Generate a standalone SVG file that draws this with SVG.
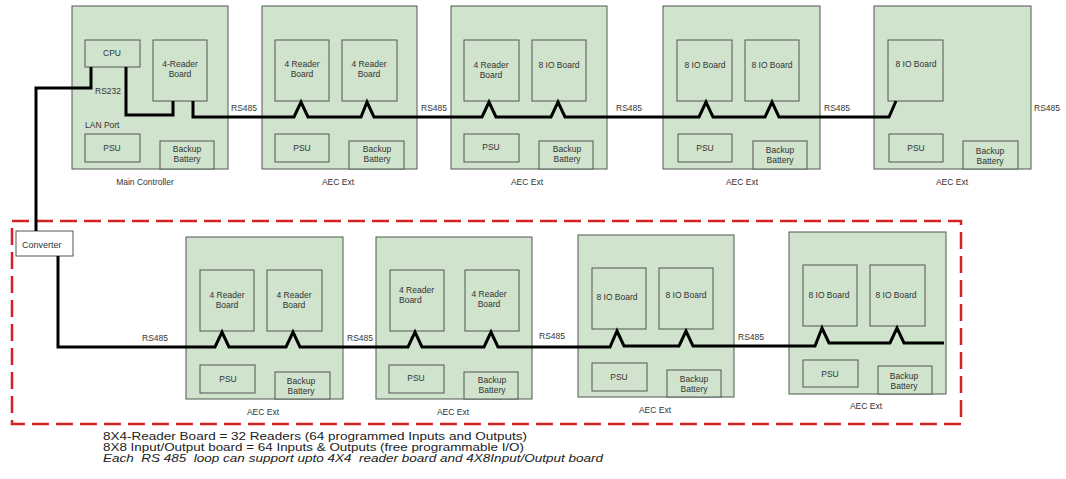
<svg xmlns="http://www.w3.org/2000/svg" width="1066" height="479" viewBox="0 0 1066 479">
<style>
.box{fill:#d0e3cc;stroke:#505850;stroke-width:1}
.brd{fill:#d0e3cc;stroke:#505850;stroke-width:1}
.t{font-family:"Liberation Sans",Arial,sans-serif;font-size:8.5px;fill:#333;text-anchor:middle;dominant-baseline:central}
.tl{font-family:"Liberation Sans",Arial,sans-serif;font-size:8.5px;fill:#333;dominant-baseline:central}
.wire{fill:none;stroke:#000;stroke-width:3;stroke-linejoin:miter}
.note{font-family:"Liberation Sans",Arial,sans-serif;font-size:10.3px;fill:#222}
</style>
<rect width="1066" height="479" fill="#fff"/>
<rect x="12" y="221" width="949" height="203" fill="none" stroke="#d42222" stroke-width="2.5" stroke-dasharray="17 7"/>

<g id="main-controller">
<rect class="box" x="72" y="6" width="156" height="163"/>
<rect class="brd" x="85" y="40" width="55" height="27"/><text class="t" x="112" y="53">CPU</text>
<rect class="brd" x="153" y="40" width="54" height="61"/><text class="t" x="180" y="64">4-Reader</text><text class="t" x="180" y="74">Board</text>
<rect class="brd" x="85" y="134" width="55" height="28"/><text class="t" x="112" y="148">PSU</text>
<rect class="brd" x="160" y="141" width="54" height="28"/><text class="t" x="187" y="149">Backup</text><text class="t" x="187" y="159">Battery</text>
<text class="tl" x="95" y="91">RS232</text>
<text class="tl" x="85" y="125">LAN Port</text>
<text class="t" x="145" y="182">Main Controller</text>
</g>

<g id="aec-ext-1">
<rect class="box" x="262" y="6" width="155" height="163"/>
<rect class="brd" x="275" y="40" width="54" height="61"/><text class="t" x="302" y="64">4 Reader</text><text class="t" x="302" y="74">Board</text>
<rect class="brd" x="342" y="40" width="55" height="61"/><text class="t" x="369" y="64">4 Reader</text><text class="t" x="369" y="74">Board</text>
<rect class="brd" x="275" y="134" width="54" height="28"/><text class="t" x="302" y="148">PSU</text>
<rect class="brd" x="349" y="141" width="55" height="28"/><text class="t" x="377" y="149">Backup</text><text class="t" x="377" y="159">Battery</text>
<text class="t" x="338" y="182">AEC Ext</text>
</g>

<g id="aec-ext-2">
<rect class="box" x="451" y="6" width="156" height="163"/>
<rect class="brd" x="464" y="40" width="55" height="61"/><text class="t" x="491" y="65">4 Reader</text><text class="t" x="491" y="75">Board</text>
<rect class="brd" x="532" y="40" width="54" height="61"/><text class="t" x="559" y="65">8 IO Board</text>
<rect class="brd" x="464" y="134" width="55" height="28"/><text class="t" x="491" y="147">PSU</text>
<rect class="brd" x="539" y="141" width="54" height="28"/><text class="t" x="567" y="149">Backup</text><text class="t" x="567" y="159">Battery</text>
<text class="t" x="527" y="182">AEC Ext</text>
</g>

<g id="aec-ext-3">
<rect class="box" x="663" y="6" width="157" height="163"/>
<rect class="brd" x="677" y="40" width="55" height="61"/><text class="t" x="705" y="65">8 IO Board</text>
<rect class="brd" x="745" y="40" width="54" height="61"/><text class="t" x="772" y="65">8 IO Board</text>
<rect class="brd" x="678" y="134" width="54" height="28"/><text class="t" x="705" y="148">PSU</text>
<rect class="brd" x="753" y="141" width="54" height="28"/><text class="t" x="780" y="150">Backup</text><text class="t" x="780" y="160">Battery</text>
<text class="t" x="742" y="182">AEC Ext</text>
</g>

<g id="aec-ext-4">
<rect class="box" x="874" y="6" width="157" height="163"/>
<rect class="brd" x="888" y="40" width="55" height="61"/><text class="t" x="916" y="64">8 IO Board</text>
<rect class="brd" x="889" y="134" width="54" height="28"/><text class="t" x="916" y="148">PSU</text>
<rect class="brd" x="963" y="141" width="55" height="28"/><text class="t" x="990" y="151">Backup</text><text class="t" x="990" y="161">Battery</text>
<text class="t" x="952" y="182">AEC Ext</text>
</g>

<g id="converter">
<rect x="16" y="231" width="57" height="25" fill="#fff" stroke="#555" stroke-width="1"/>
<text class="tl" x="22" y="245" style="font-size:9px">Converter</text>
</g>

<g id="aec-ext-5">
<rect class="box" x="186" y="237" width="157" height="162"/>
<rect class="brd" x="200" y="270" width="54" height="61"/><text class="t" x="227" y="295">4 Reader</text><text class="t" x="227" y="305">Board</text>
<rect class="brd" x="267" y="270" width="55" height="61"/><text class="t" x="294" y="295">4 Reader</text><text class="t" x="294" y="305">Board</text>
<rect class="brd" x="200" y="365" width="55" height="28"/><text class="t" x="228" y="379">PSU</text>
<rect class="brd" x="275" y="372" width="55" height="27"/><text class="t" x="301" y="381">Backup</text><text class="t" x="301" y="391">Battery</text>
<text class="t" x="263" y="412">AEC Ext</text>
</g>

<g id="aec-ext-6">
<rect class="box" x="376" y="237" width="156" height="162"/>
<rect class="brd" x="390" y="270" width="54" height="61"/><text class="tl" x="399" y="290">4 Reader</text><text class="tl" x="399" y="300">Board</text>
<rect class="brd" x="465" y="270" width="54" height="61"/><text class="t" x="489" y="294">4 Reader</text><text class="t" x="489" y="304">Board</text>
<rect class="brd" x="389" y="365" width="55" height="28"/><text class="t" x="416" y="378">PSU</text>
<rect class="brd" x="464" y="372" width="54" height="27"/><text class="t" x="492" y="380">Backup</text><text class="t" x="492" y="390">Battery</text>
<text class="t" x="453" y="412">AEC Ext</text>
</g>

<g id="aec-ext-7">
<rect class="box" x="578" y="235" width="156" height="162"/>
<rect class="brd" x="592" y="268" width="54" height="61"/><text class="t" x="617" y="297">8 IO Board</text>
<rect class="brd" x="659" y="268" width="54" height="61"/><text class="t" x="686" y="295">8 IO Board</text>
<rect class="brd" x="592" y="363" width="55" height="28"/><text class="t" x="619" y="377">PSU</text>
<rect class="brd" x="667" y="370" width="54" height="27"/><text class="t" x="694" y="379">Backup</text><text class="t" x="694" y="389">Battery</text>
<text class="t" x="655" y="410">AEC Ext</text>
</g>

<g id="aec-ext-8">
<rect class="box" x="789" y="232" width="157" height="162"/>
<rect class="brd" x="803" y="265" width="54" height="61"/><text class="t" x="829" y="295">8 IO Board</text>
<rect class="brd" x="870" y="265" width="55" height="61"/><text class="t" x="896" y="295">8 IO Board</text>
<rect class="brd" x="803" y="360" width="55" height="27"/><text class="t" x="830" y="374">PSU</text>
<rect class="brd" x="878" y="366" width="54" height="28"/><text class="t" x="904" y="376">Backup</text><text class="t" x="904" y="386">Battery</text>
<text class="t" x="866" y="406">AEC Ext</text>
</g>

<g id="connectors">
<path class="wire" d="M91,67 V88 H36 V231"/>
<path class="wire" d="M126,67 V115 H173 V101"/>
<path class="wire" d="M193,101 V117 H294 L301,102 L308,117 H361 L367,102 L374,117 H482 L489,102 L496,117 H551 L558,102 L565,117 H699 L706,102 L713,117 H765 L772,102 L779,117 H889 L896,101"/>
<path class="wire" d="M58,256 V347 H215 L222,332 L229,347 H286 L293,332 L300,347 H408 L415,332 L422,347 H484 L491,332 L498,347 H610 L617,331 L624,346 H679 L686,331 L693,346 H815 L822,328 L829,343 H890 L897,328 L904,343 H944"/>
<g class="labels">
<text class="tl" x="231" y="108">RS485</text>
<text class="tl" x="421" y="108">RS485</text>
<text class="tl" x="616" y="108">RS485</text>
<text class="tl" x="824" y="108">RS485</text>
<text class="tl" x="1034" y="108">RS485</text>
<text class="tl" x="142" y="338">RS485</text>
<text class="tl" x="347" y="338">RS485</text>
<text class="tl" x="539" y="336">RS485</text>
<text class="tl" x="738" y="337">RS485</text>
</g>
</g>

<text class="note" x="103" y="439.5" textLength="424" lengthAdjust="spacingAndGlyphs">8X4-Reader Board = 32 Readers (64 programmed Inputs and Outputs)</text>
<text class="note" x="103" y="450.5" textLength="421" lengthAdjust="spacingAndGlyphs">8X8 Input/Output board = 64 Inputs &amp; Outputs (free programmable I/O)</text>
<text class="note" x="103" y="461.5" font-style="italic" xml:space="preserve" textLength="500" lengthAdjust="spacingAndGlyphs">Each  RS 485  loop can support upto 4X4  reader board and 4X8Input/Output board</text>
</svg>
